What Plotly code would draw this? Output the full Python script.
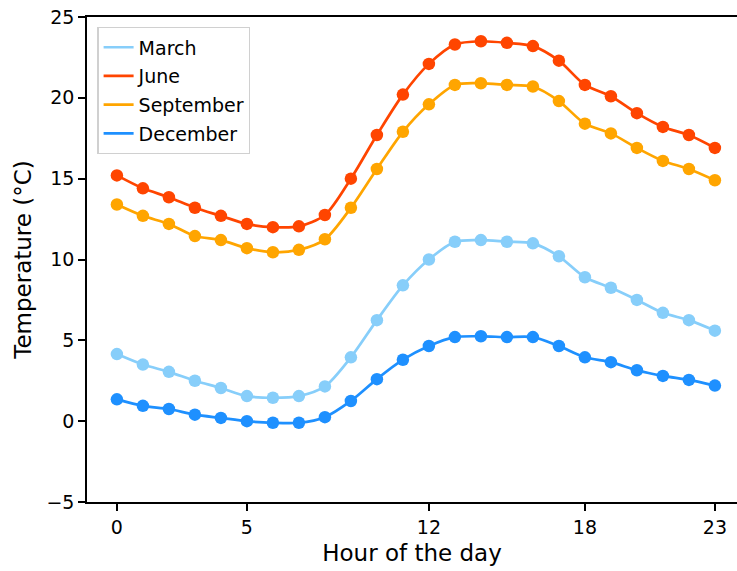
import plotly.graph_objects as go

hours = list(range(24))
months = ["March", "June", "September", "December"]
colors = ["#87CEFA", "#FF4500", "#FFA500", "#1E90FF"]

march = [4.15, 3.5, 3.05, 2.5, 2.05, 1.55, 1.45, 1.55, 2.15, 3.95, 6.25, 8.4,
         10.0, 11.1, 11.2, 11.1, 11.0, 10.2, 8.9, 8.25, 7.5, 6.7, 6.25, 5.6]
june = [15.2, 14.4, 13.85, 13.2, 12.7, 12.2, 12.0, 12.05, 12.75, 15.0, 17.7, 20.2,
        22.1, 23.3, 23.5, 23.4, 23.2, 22.3, 20.8, 20.1, 19.05, 18.2, 17.7, 16.9]
september = [13.4, 12.7, 12.2, 11.45, 11.2, 10.7, 10.45, 10.6, 11.25, 13.2, 15.6, 17.9,
             19.6, 20.8, 20.9, 20.8, 20.7, 19.8, 18.4, 17.8, 16.9, 16.1, 15.6, 14.9]
december = [1.35, 0.95, 0.75, 0.4, 0.2, 0.0, -0.1, -0.1, 0.25, 1.25, 2.6, 3.8,
            4.65, 5.2, 5.25, 5.2, 5.2, 4.65, 3.95, 3.65, 3.15, 2.8, 2.55, 2.2]
series = [march, june, september, december]

x_ticks = [0, 5, 12, 18, 23]
y_ticks = [-5, 0, 5, 10, 15, 20, 25]

fig = go.Figure()
for name, col, vals in zip(months, colors, series):
    fig.add_trace(go.Scatter(
        x=hours, y=vals, mode="lines", name=name, legendgroup=name,
        line=dict(color=col, width=2.7, shape="spline", smoothing=0.8),
    ))
    fig.add_trace(go.Scatter(
        x=hours, y=vals, mode="markers", name=name, legendgroup=name, showlegend=False,
        marker=dict(color=col, size=12.5, line=dict(width=0)),
    ))

font = "DejaVu Sans, sans-serif"
fig.update_layout(
    width=737, height=571,
    margin=dict(l=87, r=0, t=17, b=69),
    paper_bgcolor="white", plot_bgcolor="white",
    font=dict(family=font, size=19, color="black"),
    showlegend=True,
    legend=dict(
        x=0.016, y=0.979, xanchor="left", yanchor="top",
        bgcolor="rgba(255,255,255,0.8)", bordercolor="#d0d0d0", borderwidth=1.2,
        font=dict(size=19, family=font), tracegroupgap=1,
    ),
    xaxis=dict(
        range=[-1.15, 23.85], tickvals=x_ticks, ticktext=[str(t) for t in x_ticks],
        showgrid=False, zeroline=False, showline=True, linecolor="black", linewidth=1.5,
        mirror=True, ticks="outside", ticklen=7, tickwidth=1.5, tickcolor="black",
        tickfont=dict(size=19),
        title=dict(text="Hour of the day", font=dict(size=23), standoff=8),
    ),
    yaxis=dict(
        range=[-5, 25], tickvals=y_ticks,
        showgrid=False, zeroline=False, showline=True, linecolor="black", linewidth=1.5,
        ticks="outside", ticklen=7, tickwidth=1.5, tickcolor="black",
        tickfont=dict(size=19),
        title=dict(text="Temperature (°C)", font=dict(size=23), standoff=8),
    ),
)

fig.write_html("out.html")
